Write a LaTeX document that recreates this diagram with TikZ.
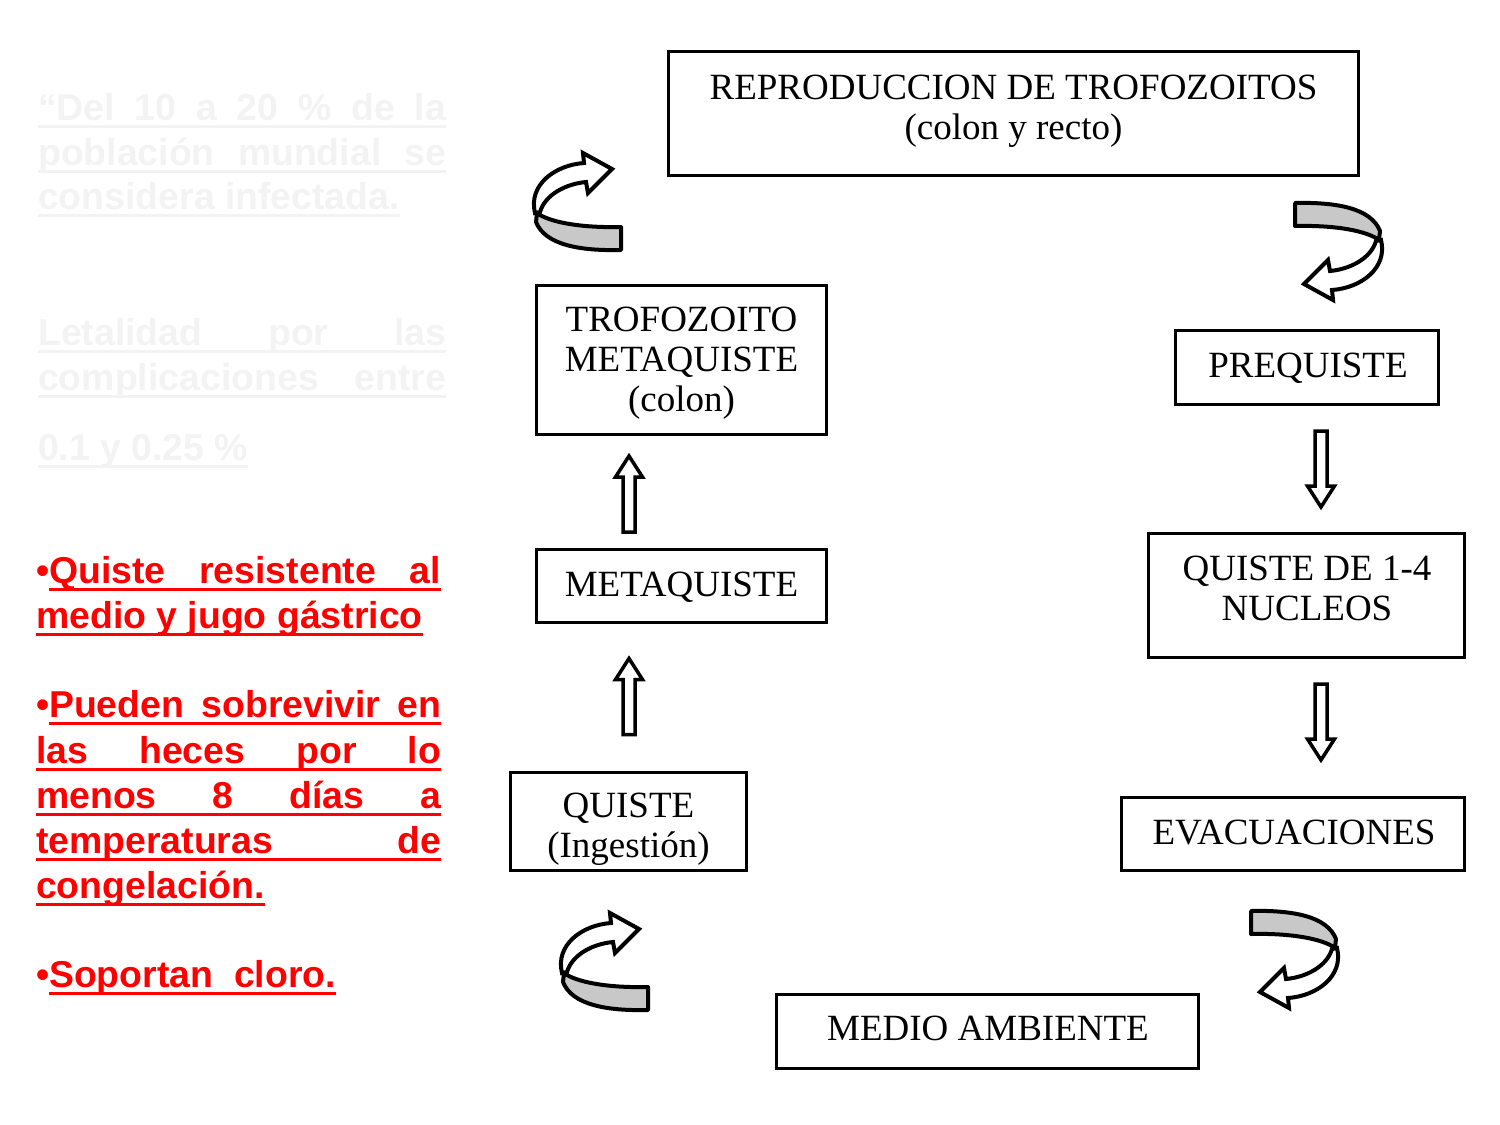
\documentclass[tikz,border=0pt]{standalone}
\usepackage{fontspec}
\setmainfont{Liberation Serif}
\newfontfamily\arialfont{Liberation Sans}
\definecolor{ared}{RGB}{255,0,0}
\definecolor{faint}{RGB}{243,243,243}
\definecolor{ribbon}{RGB}{200,200,200}
\tikzset{
  box/.style={draw=black, line width=3.5pt, inner sep=0pt, fill=white},
  boxtext/.style={font=\fontsize{37}{40}\selectfont, align=center, inner sep=0pt, anchor=base},
  redtext/.style={font=\arialfont\bfseries\fontsize{37.4}{45}\selectfont, text=ared, inner sep=0pt, anchor=base west},
  fainttext/.style={font=\arialfont\bfseries\fontsize{37.4}{45}\selectfont, text=faint, inner sep=0pt, anchor=base west},
  redul/.style={draw=ared, line width=3pt},
  faintul/.style={draw=faint, line width=3pt},
  hollow/.style={draw=black, line width=3.5pt, fill=white, line join=miter},
  backband/.style={draw=black, fill=ribbon, line width=4pt, line join=round},
  frontband/.style={draw=black, fill=white, line width=4pt, line join=miter},
  curl/.pic={
    \path[backband] (44,26) -- (44,49) .. controls (3,50) and (-32,44) .. (-41,21)
      -- (-40,12) .. controls (-28,21) and (3,27) .. (44,26) -- cycle;
    \path[frontband] (-42,12) .. controls (-49,-16) and (-22,-36) .. (7,-38)
      -- (6,-48) -- (35,-32) -- (11,-8) -- (9,-19)
      .. controls (-12,-17) and (-32,-6) .. (-37,11) -- cycle;
  },
  uparrow/.pic={
    \path[hollow] (0,-38) -- (13.5,-17) -- (6,-17) -- (6,38) -- (-6,38)
      -- (-6,-17) -- (-13.5,-17) -- cycle;
  }
}
\begin{document}
\begin{tikzpicture}[x=1pt,y=-1pt]
\useasboundingbox[fill=white] (0,0) rectangle (1500,1125);

% ---------- faint text ----------
\node[fainttext] (f1) at (38,120) {\makebox[408pt][s]{“Del 10 a 20 \% de la}};
\node[fainttext] (f2) at (38,165) {\makebox[408pt][s]{población mundial se}};
\node[fainttext] (f3) at (38,209) {considera infectada.};
\node[fainttext] (f4) at (38,345) {\makebox[408pt][s]{Letalidad por las}};
\node[fainttext] (f5) at (38,390) {\makebox[408pt][s]{complicaciones entre}};
\node[fainttext] (f6) at (38,460) {0.1 y 0.25 \%};
\foreach \n in {f1,f2,f3,f4,f5,f6}
  \draw[faintul] ([yshift=-6pt]\n.base west) -- ([yshift=-6pt]\n.base east);

% ---------- red text ----------
\node[redtext] (b1) at (36,583) {•};
\node[redtext] (r1) at (49,583) {\makebox[392pt][s]{Quiste resistente al}};
\node[redtext] (r2) at (36,628) {medio y jugo gástrico};
\node[redtext] (b2) at (36,717) {•};
\node[redtext] (r3) at (49,717) {\makebox[392pt][s]{Pueden sobrevivir en}};
\node[redtext] (r4) at (36,763) {\makebox[405pt][s]{las heces por lo}};
\node[redtext] (r5) at (36,808) {\makebox[405pt][s]{menos 8 días a}};
\node[redtext] (r6) at (36,853) {\makebox[405pt][s]{temperaturas de}};
\node[redtext] (r7) at (36,898) {congelación.};
\node[redtext] (b3) at (36,987) {•};
\node[redtext] (r8) at (49,987) {Soportan\ \ cloro.};
\foreach \n in {r1,r2,r3,r4,r5,r6,r7,r8}
  \draw[redul] ([yshift=-6pt]\n.base west) -- ([yshift=-6pt]\n.base east);

% ---------- boxes ----------
\node[box, minimum width=690pt, minimum height=124pt] (repro) at (1013.5,113.5) {};
\node[box, minimum width=290pt, minimum height=149pt] (trofo) at (681.5,360) {};
\node[box, minimum width=290pt, minimum height=73pt] (meta) at (681.5,586) {};
\node[box, minimum width=236pt, minimum height=98pt] (quiste) at (628.5,821.5) {};
\node[box, minimum width=263pt, minimum height=74pt] (pre) at (1307,367.5) {};
\node[box, minimum width=316pt, minimum height=124pt] (q14) at (1306.5,595.5) {};
\node[box, minimum width=343pt, minimum height=73pt] (evac) at (1293,834) {};
\node[box, minimum width=422pt, minimum height=74pt] (medio) at (987.5,1031.5) {};

% base anchor = baseline of the last line
\node[boxtext] (reproT) at (1013.5,139) {REPRODUCCION DE TROFOZOITOS\\(colon y recto)};
\node[boxtext] (trofoT) at (681.5,411) {TROFOZOITO\\METAQUISTE\\(colon)};
\node[boxtext] (metaT) at (681.5,596) {METAQUISTE};
\node[boxtext] (quisteT) at (628.5,857) {QUISTE\\(Ingestión)};
\node[boxtext] (preT) at (1308,377) {PREQUISTE};
\node[boxtext] (q14T) at (1307,620) {QUISTE DE 1-4\\NUCLEOS};
\node[boxtext] (evacT) at (1294,844) {EVACUACIONES};
\node[boxtext] (medioT) at (988,1040) {MEDIO AMBIENTE};

% ---------- straight hollow arrows ----------
\pic (up1) at (629,494) {uparrow};
\pic (up2) at (629,696.5) {uparrow};
\pic[rotate=180] (dn1) at (1321,469) {uparrow};
\pic[rotate=180] (dn2) at (1321,722) {uparrow};

% ---------- curled arrows ----------
\pic (cTL) at (577,201) {curl};
\pic (cBL) at (604,961) {curl};
\pic[rotate=180] (cTR) at (1339,252) {curl};
\pic[rotate=180] (cBR) at (1295,960) {curl};
\end{tikzpicture}
\end{document}
